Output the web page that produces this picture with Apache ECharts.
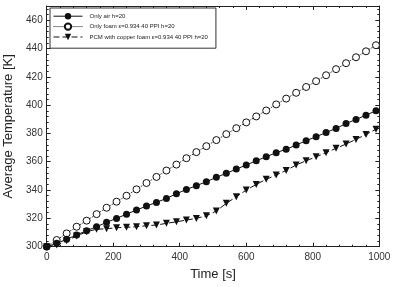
<!DOCTYPE html>
<html><head><meta charset="utf-8">
<script src="https://cdn.jsdelivr.net/npm/echarts@6/dist/echarts.min.js"></script>
<style>html,body{margin:0;padding:0;background:#fff}#c{width:400px;height:287px}</style>
</head><body><div id="c"></div>
<script>
const times = [0,30,60,90,120,150,180,210,240,270,300,330,360,390,420,450,480,510,540,570,600,630,660,690,720,750,780,810,840,870,900,930,960,990];
const onlyAir = [300,302.4,305.2,308.3,311.3,314.1,317.2,320,323,325.9,328.7,331.3,334.1,337.4,340.4,343.1,345.9,349,351.8,354.8,357.7,360.7,363.5,366.4,368.8,371.8,374.9,377.6,380.7,383.5,387,389.9,392.9,396];
const onlyFoam = [300,304.7,309.4,314.1,318.4,323,327.5,331.8,336,340.5,345,349.3,353.8,358,362.5,366.8,371,375.3,379.5,383.7,387.8,392,396.2,400.5,404.6,408.7,412.8,416.9,421.1,425.4,429.6,433.8,438,442.3];
const pcmFoam = [300,301.2,304.2,307.5,310.6,312.3,312.7,313.4,313.7,314.1,314.8,315.3,316.5,317.6,318.8,320,321.9,325.2,330.6,335.3,340,344,347.6,350.6,353.9,357.7,360.7,363.5,366.4,369.5,372.5,375.8,379.3,382.9];
const names = ['Only air h=20','Only foam \u03b5=0.934 40 PPI h=20','PCM with copper foam \u03b5=0.934 40 PPI h=20'];
const xTitle = 'Time [s]';
const yTitle = 'Average Temperature [K]';

const pairs = v => times.map((t,i)=>[t,v[i]]);
const font = 'Liberation Sans, Arial, sans-serif';
const chart = echarts.init(document.getElementById('c'));
const axisCommon = {
  axisLine:{show:true,onZero:false,lineStyle:{color:'#222',width:1}},
  axisTick:{show:true,inside:true,length:4,lineStyle:{color:'#222'}},
  minorTick:{show:true,splitNumber:5,length:2,lineStyle:{color:'#222'}},
  splitLine:{show:false}
};
chart.setOption({
  animation:false,
  backgroundColor:'#fff',
  grid:{left:46.7,right:20.7,top:6,bottom:40.3,containLabel:false,outerBoundsMode:'none'},
  legend:{
    orient:'vertical',left:50,top:8,width:156,
    itemWidth:29,itemHeight:8,itemGap:3,
    padding:[5,8,8,3],
    borderColor:'#333',borderWidth:1,backgroundColor:'#fff',
    lineStyle:{width:1},
    textStyle:{fontSize:6,color:'#222',fontFamily:font,padding:[0,0,0,2]},
    data:names
  },
  xAxis:[
    Object.assign({type:'value',min:0,max:1000,interval:200,
      name:xTitle,nameLocation:'middle',nameGap:17,
      nameTextStyle:{fontSize:13,color:'#222',fontFamily:font},
      axisLabel:{fontSize:10,color:'#333',fontFamily:font,margin:6,formatter:v=>String(v)}},axisCommon),
    Object.assign({type:'value',min:0,max:1000,interval:200,position:'top',
      axisLabel:{show:false}},axisCommon)
  ],
  yAxis:[
    Object.assign({type:'value',min:300,max:470,interval:20,
      name:yTitle,nameLocation:'middle',nameGap:24,
      nameTextStyle:{fontSize:13,color:'#222',fontFamily:font},
      axisLabel:{fontSize:10,color:'#333',fontFamily:font,margin:4,showMaxLabel:false,formatter:v=>String(v)}},axisCommon),
    Object.assign({type:'value',min:300,max:470,interval:20,position:'right',
      axisLabel:{show:false}},axisCommon)
  ],
  series:[
    {name:names[1],type:'line',data:pairs(onlyFoam),symbol:'circle',symbolSize:7,
     itemStyle:{color:'#fff',borderColor:'#111',borderWidth:1},
     lineStyle:{color:'#111',width:1,type:'dotted'},z:3},
    {name:names[2],type:'line',data:pairs(pcmFoam),symbol:'triangle',symbolRotate:180,symbolSize:7,
     itemStyle:{color:'#111',borderColor:'#111',borderWidth:0},
     lineStyle:{color:'#111',width:1,type:[6,3]},z:4},
    {name:names[0],type:'line',data:pairs(onlyAir),symbol:'circle',symbolSize:7,
     itemStyle:{color:'#111',borderColor:'#111',borderWidth:0},
     lineStyle:{color:'#111',width:1,type:'solid'},z:5}
  ]
});
</script></body></html>
